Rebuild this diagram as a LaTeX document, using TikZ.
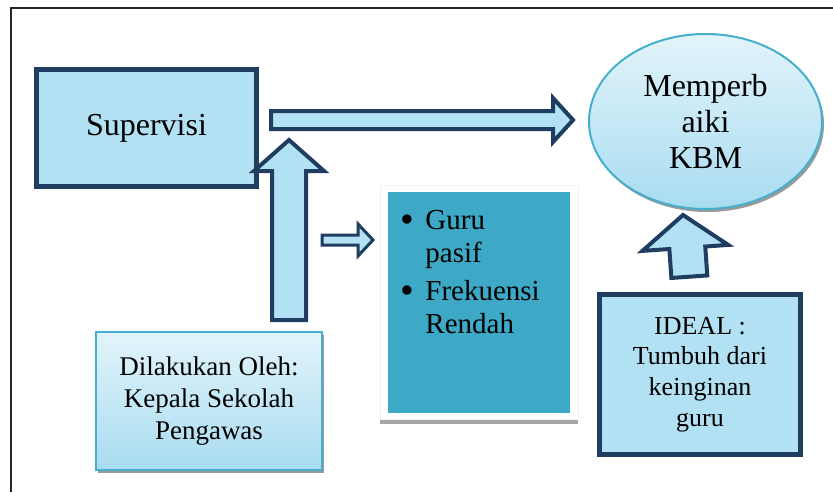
\documentclass[tikz,border=0pt]{standalone}
\usepackage{fontspec}
\setmainfont{Liberation Serif}
\usetikzlibrary{shapes.geometric,shadows}
\definecolor{navy}{HTML}{1F3D60}
\definecolor{biru}{HTML}{B3E1F4}
\definecolor{tosca}{HTML}{3DA9C6}
\definecolor{tepi}{HTML}{47AFCB}
\definecolor{muda}{HTML}{E2F4FB}
\definecolor{tua}{HTML}{A9DCF0}
\newcommand{\butir}{\makebox[12.5pt][l]{\raisebox{-1.4pt}{\scalebox{1.35}{\textbullet}}}}

\begin{document}
\begin{tikzpicture}[x=0.5pt,y=-0.5pt,
  kotak/.style={draw=navy, line width=2.5pt, fill=biru, inner sep=0pt, align=center},
  lembut/.style={draw=tepi, line width=1pt, top color=muda, bottom color=tua, inner sep=0pt, align=center,
    drop shadow={shadow xshift=1pt, shadow yshift=-1.5pt, fill=black!40, opacity=1}},
  panah/.style={draw=navy, line width=2pt, fill=biru, line join=miter}]
\useasboundingbox (0,0) rectangle (833,492);

% bingkai
\draw[line width=1pt, black!85] (11,492) -- (11,8) -- (833,8);

\node[kotak, minimum width=110pt, minimum height=58.5pt, font=\fontsize{16}{19}\selectfont] (sup) at (146.5,128) {Supervisi};

\node[ellipse, lembut, minimum width=116.5pt, minimum height=87.5pt, font=\fontsize{16}{18}\selectfont] (kbm) at (705.5,121.5) {Memperb\\aiki\\KBM};

\node[lembut, minimum width=113pt, minimum height=69pt, font=\fontsize{13.5}{16}\selectfont] (oleh) at (209,401) {Dilakukan Oleh:\\Kepala Sekolah\\Pengawas};

\node[kotak, minimum width=100.5pt, minimum height=80pt, font=\fontsize{13}{15.3}\selectfont] (ideal) at (700,374.5) {IDEAL :\\Tumbuh dari\\keinginan\\guru};

% kotak masalah
\fill[black!35] (380,419) rectangle (578,424);
\draw[black!5, fill=white] (380,185) rectangle (578,419);
\node[fill=tosca, minimum width=91pt, minimum height=110.5pt, inner sep=0pt] (masalah) at (479,302.5) {};
\node[anchor=north west, inner sep=0pt, align=left, font=\fontsize{14.5}{16.5}\selectfont] (daftar) at (400,210)
  {\butir Guru\\ \hspace*{12.5pt}pasif\\[2.5pt]
   \butir Frekuensi\\ \hspace*{12.5pt}Rendah};

% panah blok
\draw[panah] (271,111) -- (553,111) -- (553,98) -- (573,120) -- (553,142) -- (553,129) -- (271,129) -- cycle;
\draw[panah] (272,320) -- (272,171) -- (254,171) -- (289,140) -- (324,171) -- (306,171) -- (306,320) -- cycle;
\draw[panah, line width=1.5pt] (322,235) -- (358,235) -- (358,224) -- (373,240) -- (358,256) -- (358,245) -- (322,245) -- cycle;
\draw[panah, rotate around={4:(683,215)}] (683,215) -- (726,248) -- (703,248) -- (703,277) -- (667,277) -- (667,248) -- (640,248) -- cycle;
\end{tikzpicture}
\end{document}
